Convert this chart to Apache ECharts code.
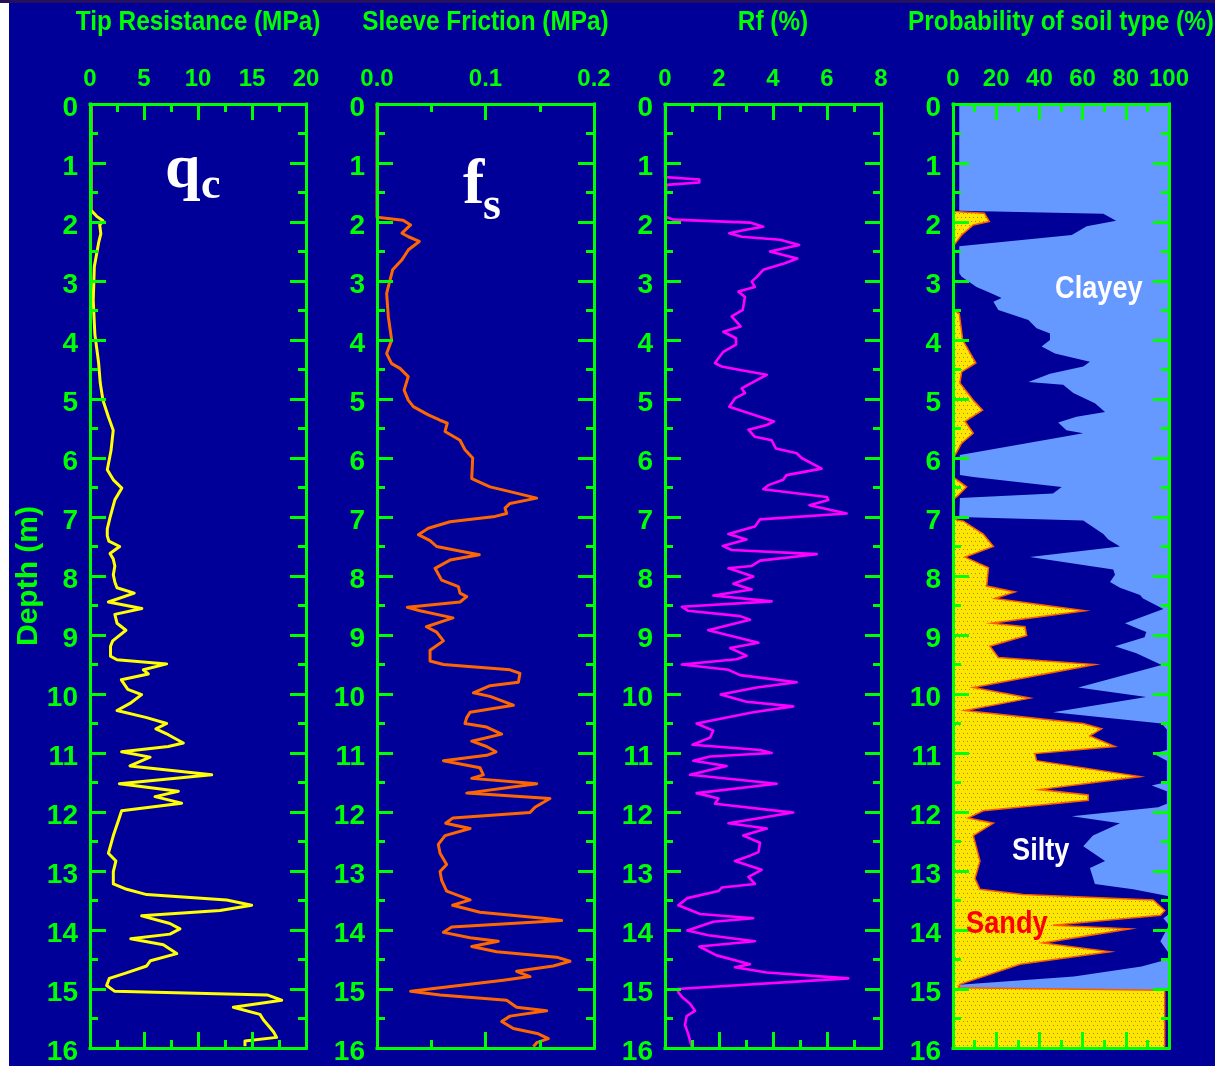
<!DOCTYPE html>
<html>
<head>
<meta charset="utf-8">
<script src="https://cdn.jsdelivr.net/npm/echarts@6/dist/echarts.min.js"></script>
<style>
html,body{margin:0;padding:0;background:#ffffff;}
#chart{width:1215px;height:1066px;}
</style>
</head>
<body>
<div id="chart"></div>
<script>
// ---------------- DATA ----------------
// [depth (m), tip resistance qc (MPa)]
const qcData = [
[0,0.1],[1.8,0.1],[1.9,0.6],[1.98,1.2],[2.05,0.9],[2.2,1.0],[2.35,0.8],[2.76,0.4],[3.33,0.3],[3.9,0.45],
[4.39,0.8],[4.73,0.95],[5.02,1.2],[5.3,1.7],[5.53,2.15],[5.87,1.95],[6.2,1.6],[6.37,2.16],[6.51,2.95],[6.71,2.3],
[7.01,1.85],[7.2,1.6],[7.32,1.6],[7.41,1.75],[7.5,2.75],[7.62,1.85],[7.71,2.15],[7.83,2.3],[7.98,2.16],[8.1,2.3],
[8.2,2.5],[8.29,4.1],[8.44,1.7],[8.55,4.8],[8.65,2.3],[8.8,2.5],[8.92,3.33],[9.1,2.1],[9.19,1.9],[9.36,1.9],
[9.42,2.5],[9.49,7.1],[9.59,4.94],[9.66,5.4],[9.76,2.9],[9.92,3.5],[10.01,4.78],[10.16,3.7],[10.28,2.5],[10.4,5.25],
[10.5,7.1],[10.59,6.1],[10.69,7.25],[10.83,8.64],[10.89,7.25],[10.98,2.93],[11.07,5.56],[11.22,3.7],[11.37,11.27],[11.52,2.72],
[11.65,8.18],[11.74,6.02],[11.85,8.49],[11.98,2.93],[12.16,2.6],[12.4,2.16],[12.7,1.7],[12.83,2.4],[13.01,2.16],[13.22,2.16],
[13.31,3.4],[13.4,5.25],[13.49,12.65],[13.58,14.97],[13.67,12.04],[13.76,4.78],[13.89,7.4],[13.98,8.33],[14.07,7.4],[14.15,3.77],
[14.25,6.79],[14.4,8.03],[14.52,5.6],[14.61,5.25],[14.73,3.3],[14.82,1.79],[14.94,1.54],[15.04,2.3],[15.1,16.4],[15.19,17.75],
[15.31,13.27],[15.43,15.74],[15.52,16.05],[15.64,16.6],[15.73,17.0],[15.82,17.28],[15.88,14.35],[15.97,14.35]
];
// [depth (m), sleeve friction fs (MPa)]
const fsData = [
[0,0],[1.92,0],[1.97,0.024],[2.05,0.031],[2.19,0.023],[2.25,0.029],[2.33,0.039],[2.47,0.029],[2.64,0.023],[2.81,0.0144],
[3.1,0.0104],[3.21,0.0089],[3.6,0.0104],[4.0,0.0135],[4.23,0.0089],[4.4,0.0135],[4.48,0.0212],[4.62,0.0288],[4.85,0.025],[5.02,0.0288],
[5.13,0.0335],[5.27,0.0473],[5.36,0.0581],[5.41,0.0648],[5.55,0.0627],[5.7,0.0765],[5.86,0.0811],[6.0,0.0882],[6.35,0.0873],[6.49,0.1042],
[6.57,0.1226],[6.68,0.1472],[6.77,0.1226],[6.85,0.118],[6.94,0.1195],[6.99,0.1088],[7.08,0.0673],[7.19,0.0473],[7.3,0.0381],[7.4,0.0489],
[7.5,0.055],[7.59,0.0796],[7.64,0.0943],[7.73,0.0673],[7.87,0.0535],[8.07,0.0596],[8.18,0.075],[8.29,0.0765],[8.35,0.0827],[8.44,0.0765],
[8.53,0.028],[8.59,0.0396],[8.71,0.07],[8.86,0.0455],[8.95,0.055],[9.1,0.0612],[9.26,0.0489],[9.44,0.0489],[9.5,0.0612],[9.59,0.1226],
[9.65,0.1318],[9.8,0.1303],[9.86,0.1042],[9.98,0.0888],[10.04,0.1042],[10.19,0.1257],[10.31,0.0858],[10.4,0.0827],[10.5,0.0811],[10.56,0.1011],
[10.68,0.1149],[10.8,0.0873],[10.89,0.1011],[10.98,0.1097],[11.04,0.1011],[11.13,0.0612],[11.25,0.0949],[11.37,0.098],[11.43,0.0873],[11.52,0.1472],
[11.68,0.0827],[11.77,0.1594],[11.92,0.1456],[12.01,0.141],[12.1,0.07],[12.19,0.0633],[12.28,0.0858],[12.4,0.0627],[12.55,0.0565],[12.7,0.0581],
[12.89,0.0642],[13.01,0.0581],[13.16,0.0596],[13.34,0.0642],[13.49,0.0858],[13.58,0.0697],[13.7,0.0949],[13.8,0.1533],[13.84,0.1702],[13.95,0.0688],
[14.04,0.0612],[14.13,0.0858],[14.19,0.1118],[14.28,0.0873],[14.37,0.1103],[14.46,0.1656],[14.53,0.1779],[14.61,0.1625],[14.7,0.1287],[14.79,0.141],
[14.85,0.1164],[15.04,0.031],[15.1,0.0581],[15.19,0.1195],[15.31,0.1287],[15.37,0.1564],[15.46,0.1226],[15.55,0.1149],[15.67,0.1257],[15.76,0.1487],
[15.84,0.1579],[15.91,0.1472],[15.98,0.1441]
];
// [depth (m), friction ratio Rf (%)]
const rfData = [
[0,0],[1.24,0],[1.28,1.27],[1.33,1.27],[1.37,0.05],[1.91,0.02],[1.96,0.3],[2.01,3.15],[2.08,3.64],[2.14,2.9],
[2.19,2.38],[2.25,2.84],[2.3,4.26],[2.39,4.97],[2.5,3.89],[2.56,4.38],[2.62,4.9],[2.7,4.44],[2.81,3.64],[2.93,3.4],
[3.01,3.21],[3.1,3.33],[3.18,2.72],[3.27,2.96],[3.49,2.88],[3.6,2.47],[3.77,2.8],[3.86,2.16],[3.97,2.63],[4.08,2.63],
[4.2,2.16],[4.39,1.85],[4.45,2.1],[4.51,2.78],[4.59,3.77],[4.68,3.4],[4.82,2.84],[4.9,2.96],[4.99,2.59],[5.13,2.38],
[5.38,4.04],[5.44,3.77],[5.52,3.09],[5.64,3.33],[5.7,3.95],[5.84,4.11],[5.92,4.88],[6.0,5.06],[6.18,5.8],[6.29,4.5],
[6.37,4.38],[6.46,3.83],[6.53,3.64],[6.66,5.99],[6.71,6.05],[6.8,5.35],[6.94,6.73],[7.04,3.52],[7.16,3.33],[7.29,2.35],
[7.38,3.02],[7.49,2.14],[7.56,2.47],[7.63,5.62],[7.74,3.52],[7.83,3.21],[7.87,2.35],[8.01,3.27],[8.13,2.53],[8.23,3.21],
[8.33,1.79],[8.43,3.95],[8.52,0.62],[8.59,0.86],[8.68,2.78],[8.74,3.15],[8.92,1.6],[9.04,2.65],[9.13,3.46],[9.22,2.41],
[9.35,3.02],[9.41,2.65],[9.5,0.62],[9.59,2.35],[9.68,2.78],[9.8,4.88],[9.89,3.4],[10.01,2.06],[10.13,3.02],[10.21,4.75],
[10.31,3.27],[10.5,1.17],[10.62,1.79],[10.74,1.67],[10.86,1.02],[10.95,3.52],[11.0,3.95],[11.06,1.67],[11.13,1.05],[11.22,2.28],
[11.37,0.93],[11.52,4.14],[11.68,1.17],[11.77,1.98],[11.86,1.85],[12.01,4.75],[12.19,2.35],[12.28,3.77],[12.4,2.9],[12.52,3.52],
[12.68,3.46],[12.74,3.15],[12.83,2.59],[12.98,3.58],[13.1,3.09],[13.22,3.33],[13.28,2.1],[13.34,1.98],[13.46,0.83],[13.58,0.49],
[13.73,1.3],[13.8,3.27],[13.86,1.79],[14.01,0.83],[14.09,1.6],[14.19,3.33],[14.28,1.27],[14.43,1.91],[14.58,3.15],[14.63,2.59],
[14.72,3.77],[14.82,6.79],[15.0,0.45],[15.06,0.5],[15.13,0.62],[15.25,0.93],[15.37,1.11],[15.46,0.8],[15.61,0.74],[15.76,0.86],
[15.98,0.99]
];
// [depth (m), probability of sandy soil (%)]
const sandyData = [
[0,0],[1.82,0],[1.85,14.5],[1.99,16.8],[2.05,9.4],[2.22,4.0],[2.39,0.5],[2.45,0],[3.49,0],[3.55,2.9],
[4.0,4.5],[4.39,10.6],[4.54,4.0],[4.73,3.2],[5.02,9.4],[5.19,13.7],[5.38,5.6],[5.58,9.4],[5.75,4.0],[5.98,0.5],
[6.32,0],[6.49,6.3],[6.63,2.5],[6.71,0],[7.0,0],[7.05,1.7],[7.07,4.8],[7.29,14],[7.5,18.7],[7.68,5.6],
[7.86,16.4],[8.17,15.6],[8.27,28.7],[8.38,19.4],[8.59,61.1],[8.8,17.9],[8.86,33.3],[9.01,34.1],[9.19,17.1],[9.38,21],
[9.5,65.7],[9.89,9.4],[10.07,35.6],[10.28,5.6],[10.5,60.3],[10.59,68.8],[10.71,63.4],[10.89,75],[11.01,37.9],[11.13,38.7],
[11.4,86.6],[11.62,40.1],[11.71,62.6],[11.8,62.6],[11.98,14],[12.1,7.1],[12.19,18.7],[12.4,9.4],[12.83,12.5],[13.13,10.2],
[13.31,12.5],[13.4,32.4],[13.49,92.7],[13.67,98.1],[13.75,96],[13.92,46.3],[13.98,81.9],[14.22,41.7],[14.37,72.7],[14.58,31],
[14.92,3.2],[14.98,2.5],[15.02,98],[16,98]
];
// [depth (m), probability of clayey soil (%)]
const clayeyData = [
[0,97.1],[1.81,97.1],[1.86,30.4],[1.98,24.5],[2.07,38.1],[2.22,45],[2.41,97.1],[2.87,97.1],[2.93,96],[3.1,89.1],
[3.21,82.1],[3.29,77.5],[3.35,81.3],[3.49,79],[3.66,65.1],[3.8,61.3],[3.89,55.1],[4.0,55.1],[4.11,59],[4.23,52.8],
[4.37,36.6],[4.45,39.7],[4.57,55.1],[4.71,65.1],[4.76,49],[4.9,44.3],[5.07,34.3],[5.22,29.6],[5.3,42.8],[5.4,51.3],
[5.53,47.5],[5.58,39.7],[5.75,65.9],[5.95,96.8],[6.29,96.8],[6.32,90.6],[6.49,49.7],[6.6,53.7],[6.68,96.8],[7.0,97.1],
[7.06,39.7],[7.29,30.4],[7.38,28.1],[7.5,22.7],[7.68,64.4],[7.89,25.8],[7.98,25],[8.1,27.3],[8.2,22.7],[8.32,13.4],
[8.38,12],[8.56,2.6],[8.8,20.4],[8.95,10.5],[9.04,11.3],[9.19,25],[9.31,15.1],[9.51,3.4],[9.89,42],[10.05,10.5],
[10.31,53.7],[10.5,3.4],[10.6,1],[10.95,1],[11.01,7.3],[11.13,1],[11.49,1],[11.55,8],[11.65,1],[11.86,1],
[11.92,5],[12.07,45],[12.19,22.7],[12.4,35.2],[12.58,39.7],[12.83,29.6],[12.95,36.6],[13.22,34.3],[13.31,16.6],[13.43,0],
[13.73,0],[13.8,2.6],[13.92,0],[14.19,4],[14.4,0],[14.49,0],[14.62,12.7],[14.79,44],[14.93,97],[14.99,97],
[15.02,0],[16,0]
];
const depthRange = [0, 16];
const panelTitles = ['Tip Resistance (MPa)', 'Sleeve Friction (MPa)', 'Rf (%)', 'Probability of soil type (%)'];
const panelScales = [[0, 20, 5], [0, 0.2, 0.1], [0, 8, 2], [0, 100, 20]];

// ---------------- STYLE / LAYOUT ----------------
const GREEN = '#00ff00';
const NAVY = '#000099';
const FONT = "'Liberation Sans',Arial,sans-serif";
const SERIF = "'Liberation Serif','Times New Roman',serif";
const panelBoxes = [[90, 216], [377, 217], [665, 216], [953, 216]];
const TOP = 104, HEIGHT = 944;

const lineSty = {color: GREEN, width: 3, cap: 'square'};
function baseAxis() {
  return {
    axisLine: {show: true, onZero: false, lineStyle: lineSty},
    axisTick: {show: true, inside: true, length: 16, lineStyle: {color: GREEN, width: 3}},
    minorTick: {show: true, splitNumber: 2, length: 8, lineStyle: {color: GREEN, width: 3}},
    splitLine: {show: false},
    minorSplitLine: {show: false},
    z: 10
  };
}
const depthLabelRich = {d: {color: GREEN, fontFamily: FONT, fontWeight: 'bold', fontSize: 28, padding: [8, 0, 0, 0]}};

const option = {
  backgroundColor: NAVY,
  animation: false,
  grid: [], xAxis: [], yAxis: [], series: [], graphic: []
};

panelBoxes.forEach((b, i) => {
  option.grid.push({left: b[0], top: TOP, width: b[1], height: HEIGHT, containLabel: false, outerBoundsMode: 'none'});
  const sc = panelScales[i];
  const fmt = i === 1 ? (v => v.toFixed(1)) : (v => String(Math.round(v)));
  option.xAxis.push(Object.assign(baseAxis(), {
    type: 'value', gridIndex: i, position: 'top', min: sc[0], max: sc[1], interval: sc[2],
    axisLabel: {show: true, margin: 13, formatter: fmt, color: GREEN, fontFamily: FONT, fontWeight: 'bold', fontSize: 24}
  }));
  option.xAxis.push(Object.assign(baseAxis(), {
    type: 'value', gridIndex: i, position: 'bottom', min: sc[0], max: sc[1], interval: sc[2],
    axisLabel: {show: false}
  }));
  option.yAxis.push(Object.assign(baseAxis(), {
    type: 'value', gridIndex: i, position: 'left', inverse: true, min: depthRange[0], max: depthRange[1], interval: 1,
    axisLabel: {show: true, margin: 12, formatter: v => '{d|' + v + '}', rich: depthLabelRich,
      color: GREEN, fontFamily: FONT, fontWeight: 'bold', fontSize: 28}
  }));
  option.yAxis.push(Object.assign(baseAxis(), {
    type: 'value', gridIndex: i, position: 'right', inverse: true, min: depthRange[0], max: depthRange[1], interval: 1,
    axisLabel: {show: false}
  }));
});

function profile(data, axisIdx, color, width) {
  return {
    type: 'line', xAxisIndex: axisIdx, yAxisIndex: axisIdx, symbol: 'none', showSymbol: false,
    data: data.map(d => [d[1], d[0]]),
    lineStyle: {color: color, width: width, join: 'round'}, z: 3, silent: true
  };
}
option.series.push(profile(qcData, 0, '#ffff00', 3));
option.series.push(profile(fsData, 2, '#ff6600', 3));
option.series.push(profile(rfData, 4, '#ff00ff', 2.6));

// dotted yellow pattern
const pat = document.createElement('canvas');
pat.width = 8; pat.height = 8;
const pc = pat.getContext('2d');
pc.fillStyle = '#ffe600'; pc.fillRect(0, 0, 8, 8);
pc.fillStyle = '#9c8a3a';
[[1,1],[5,1],[3,5],[7,5]].forEach(p => pc.fillRect(p[0], p[1], 1, 1));

option.series.push({
  type: 'custom', xAxisIndex: 6, yAxisIndex: 6, coordinateSystem: 'cartesian2d',
  data: [[0, 0]], encode: {x: 0, y: 1}, silent: true, z: 2,
  renderItem: function (params, api) {
    const clayPts = [api.coord([100, depthRange[0]])];
    clayeyData.forEach(d => clayPts.push(api.coord([100 - d[1], d[0]])));
    clayPts.push(api.coord([100, depthRange[1]]));
    const sandPts = [api.coord([0, depthRange[0]])];
    sandyData.forEach(d => sandPts.push(api.coord([d[1], d[0]])));
    sandPts.push(api.coord([0, depthRange[1]]));
    return {
      type: 'group',
      children: [
        {type: 'polygon', shape: {points: clayPts}, style: {fill: '#6699ff', stroke: null}},
        {type: 'polygon', shape: {points: sandPts}, style: {fill: {image: pat, repeat: 'repeat'}, stroke: '#ff5a00', lineWidth: 1.5}}
      ]
    };
  }
});

function txt(x, y, s, size, family, color, opts) {
  const o = opts || {};
  return {type: 'text', x: x, y: y, z: 100, silent: true,
    scaleX: o.sx || 1, rotation: o.rot || 0,
    style: {text: s, fill: color, fontFamily: family, fontWeight: 'bold', fontSize: size,
      align: o.align || 'left', verticalAlign: 'middle', textAlign: o.align || 'left', textVerticalAlign: 'middle'}};
}
const titleEls = panelTitles.map((t, i) =>
  txt(panelBoxes[i][0] + panelBoxes[i][1] / 2, 22, t, 28, FONT, GREEN, {sx: 0.87, align: 'center'}));

option.graphic = [
  {type: 'rect', shape: {x: 0, y: 0, width: 9, height: 1066}, style: {fill: '#ffffff'}, z: 50, silent: true},
  {type: 'rect', shape: {x: 0, y: 0, width: 1215, height: 3}, style: {fill: '#24105c'}, z: 51, silent: true},
  ...titleEls,
  txt(29, 576, 'Depth (m)', 30, FONT, GREEN, {rot: Math.PI / 2, align: 'center'}),
  txt(165, 170, 'q', 64, SERIF, '#ffffff'),
  txt(201, 187, 'c', 44, SERIF, '#ffffff'),
  txt(463, 186, 'f', 64, SERIF, '#ffffff'),
  txt(483, 207, 's', 46, SERIF, '#ffffff'),
  txt(1055, 289, 'Clayey', 32, FONT, '#ffffff', {sx: 0.85}),
  txt(1012, 851, 'Silty', 32, FONT, '#ffffff', {sx: 0.85}),
  txt(966, 924, 'Sandy', 32, FONT, '#ff0000', {sx: 0.85})
];

const chart = echarts.init(document.getElementById('chart'), null, {renderer: 'canvas'});
chart.setOption(option);
</script>
</body>
</html>
